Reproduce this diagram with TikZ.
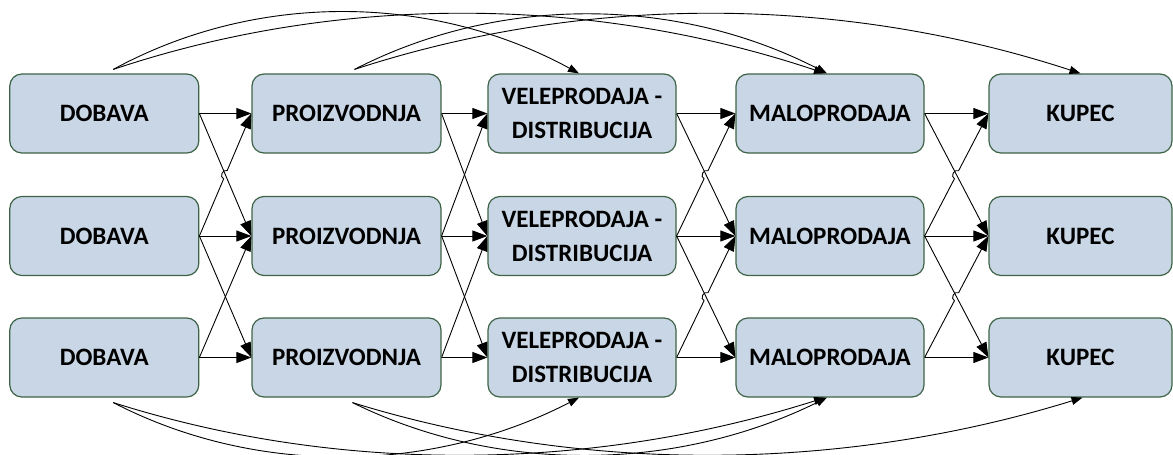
\documentclass[tikz,border=0pt]{standalone}
\usepackage{fontspec}
\setmainfont{Carlito}
\usetikzlibrary{arrows.meta,calc}
\definecolor{boxfill}{RGB}{201,214,229}
\definecolor{boxedge}{RGB}{62,100,72}
\tikzset{
  stage/.style={draw=boxedge, fill=boxfill, line width=1.2pt, rounded corners=12pt,
    minimum width=189pt, minimum height=79pt, inner sep=0pt, align=center,
    font=\fontsize{25}{34}\selectfont\bfseries},
  flow/.style={line width=0.9pt, -{Triangle[length=15pt,width=11pt]}},
  skip/.style={line width=0.9pt, -{Triangle[length=11pt,width=8pt]}},
}
% straight arrow that jumps over the crossing at the middle of its span
\newcommand{\hoparrow}[2]{%
  \coordinate (hopc) at ($(#1)!0.5!(#2)$);
  \draw[flow] (#1) -- ($(hopc)!4.5pt!(#1)$) to[bend left=90,looseness=1.4]
    ($(hopc)!4.5pt!(#2)$) -- (#2);}
\begin{document}
\begin{tikzpicture}[x=1pt,y=-1pt]
\useasboundingbox (0,0) rectangle (1173,455);
\clip (0,0) rectangle (1173,455);

% the five stages, three chains
\foreach \r/\y in {1/113.5,2/236,3/357.5}{
  \node[stage] (d\r) at (104.3,\y) {DOBAVA};
  \node[stage] (p\r) at (346.5,\y) {PROIZVODNJA};
  \node[stage, minimum width=188pt] (v\r) at (582,\y) {VELEPRODAJA -\\DISTRIBUCIJA};
  \node[stage, minimum width=188pt] (m\r) at (830,\y) {MALOPRODAJA};
  \node[stage, minimum width=183pt] (k\r) at (1080.5,\y) {KUPEC};
}

% direct flows along each chain
\foreach \r in {1,2,3}{
  \draw[flow] (d\r.east) -- (p\r.west);
  \draw[flow] (p\r.east) -- (v\r.west);
  \draw[flow] (v\r.east) -- (m\r.west);
  \draw[flow] (m\r.east) -- (k\r.west);
}

% cross flows: supply -> production
\draw[flow] (d1.east) -- (p2.west);
\hoparrow{d2.east}{p1.west}
\draw[flow] (d2.east) -- (p3.west);
\draw[flow] (d3.east) -- (p2.west);

% production -> wholesale
\draw[flow] (p1.east) -- (v2.west);
\draw[flow] (p2.east) -- (v1.west);
\draw[flow] (p2.east) -- (v3.west);
\draw[flow] (p3.east) -- (v2.west);

% wholesale -> retail
\draw[flow] (v1.east) -- (m2.west);
\hoparrow{v2.east}{m1.west}
\draw[flow] (v2.east) -- (m3.west);
\hoparrow{v3.east}{m2.west}

% retail -> customer
\draw[flow] (m1.east) -- (k2.west);
\hoparrow{m2.east}{k1.west}
\draw[flow] (m2.east) -- (k3.west);
\hoparrow{m3.east}{k2.west}

% stages skipped, upper chain
\coordinate (ds) at ($(d1.north)+(9,-4)$);
\coordinate (ps) at ($(p1.north)+(8,-4)$);
\draw[skip] (ds) .. controls +(145,-79) and +(-145,-79) .. ($(v1.north)+(-3,0)$);
\draw[skip] (ds) .. controls +(230,-77) and +(-230,-77) .. ($(m1.north)+(-5,0)$);
\draw[skip] (ps) .. controls +(148,-76) and +(-148,-76) .. ($(m1.north)+(-3,0)$);
\draw[skip] (ps) .. controls +(236,-77) and +(-236,-77) .. (k1.north);

% stages skipped, lower chain
\coordinate (dt) at ($(d3.south)+(9,5)$);
\coordinate (pt) at ($(p3.south)+(6,5)$);
\draw[skip] (dt) .. controls +(145,75) and +(-145,75) .. ($(v3.south)+(-3,0)$);
\draw[skip] (dt) .. controls +(230,73) and +(-230,73) .. ($(m3.south)+(-5,0)$);
\draw[skip] (pt) .. controls +(148,73) and +(-148,73) .. ($(m3.south)+(-3,0)$);
\draw[skip] (pt) .. controls +(236,73) and +(-236,73) .. ($(k3.south)+(2,0)$);
\end{tikzpicture}
\end{document}
